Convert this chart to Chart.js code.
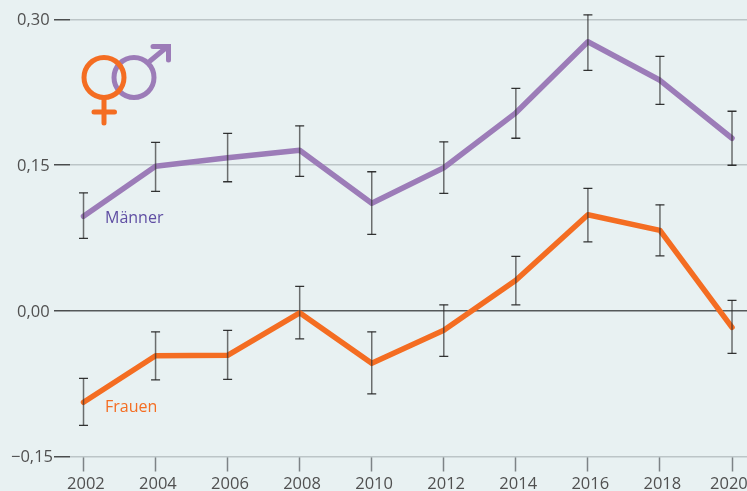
<!DOCTYPE html>
<html><head><meta charset="utf-8">
<style>html,body{margin:0;padding:0;background:#e8f1f2;overflow:hidden}canvas{display:block}</style>
<script src="https://cdn.jsdelivr.net/npm/chart.js@4"></script></head>
<body><canvas id="c" width="747" height="491"></canvas>
<script>
const years=[2002,2004,2006,2008,2010,2012,2014,2016,2018,2020];
const yTickValues=[-0.15,0,0.15,0.30];
const yTickLabels=["\u22120,15","0,00","0,15","0,30"];
const maenner=[.0973,.1489,.1576,.1653,.1107,.1473,.2039,.2771,.2374,.1777];
const maennerHigh=[.1215,.1735,.1828,.1905,.1432,.1740,.2291,.3048,.2621,.2055];
const maennerLow=[.0747,.1231,.1329,.1385,.0788,.1210,.1777,.2477,.2127,.1499];
const frauen=[-.0942,-.0463,-.0458,-.0021,-.0541,-.0201,.0314,.0989,.0829,-.0170];
const frauenHigh=[-.0695,-.0216,-.0201,.0252,-.0216,.0062,.0561,.1262,.1092,.0108];
const frauenLow=[-.1179,-.0711,-.0705,-.0288,-.0855,-.0469,.0062,.0711,.0566,-.0438];
const purple='#9c7cb8',orange='#f46d22',labelPurple='#5f4ea3',textCol='#505050';
const font='"Open Sans"';

const labelNudge={id:'labelNudge',beforeDraw(ch){
  const {x,y}=ch.scales;
  const xi=x.getLabelItems();
  const last=xi[xi.length-1];
  last.options.translation[0]=x.getPixelForValue(2020)-22;
  y.getLabelItems().forEach(it=>{
    it.options.textAlign='left';
    it.options.translation[0]=String(it.label).startsWith('\u2212')?11:17;
    it.options.translation[1]=y.getPixelForValue(yTickValues[yTickLabels.indexOf(it.label)])+1;
  });
}};

const errorBars={id:'errorBars',afterDatasetsDraw(ch){
  const {ctx,scales:{x,y}}=ch;
  ctx.save();
  [[maennerHigh,maennerLow],[frauenHigh,frauenLow]].forEach(([hi,lo])=>{
    years.forEach((yr,i)=>{
      const px=x.getPixelForValue(yr),a=y.getPixelForValue(hi[i]),b=y.getPixelForValue(lo[i]);
      ctx.strokeStyle='rgba(45,45,45,.68)';ctx.lineWidth=1.5;
      ctx.beginPath();ctx.moveTo(px,a);ctx.lineTo(px,b);ctx.stroke();
      ctx.strokeStyle='rgba(30,30,30,.9)';ctx.lineWidth=1.3;
      ctx.beginPath();ctx.moveTo(px-4.5,a);ctx.lineTo(px+4.5,a);ctx.moveTo(px-4.5,b);ctx.lineTo(px+4.5,b);ctx.stroke();
    });
  });
  ctx.font='16px '+font;ctx.textBaseline='middle';ctx.textAlign='left';
  ctx.fillStyle=labelPurple;ctx.fillText('Männer',105,218.5);
  ctx.fillStyle=orange;ctx.fillText('Frauen',105,407.5);
  // Symbole
  ctx.lineWidth=5;ctx.lineCap='round';ctx.lineJoin='miter';
  ctx.strokeStyle=purple;
  ctx.beginPath();ctx.arc(134,77.5,20,0,7);ctx.stroke();
  ctx.beginPath();ctx.moveTo(150,61);ctx.lineTo(167,47);ctx.stroke();
  ctx.beginPath();ctx.moveTo(153,46.5);ctx.lineTo(168.5,46.5);ctx.lineTo(168.5,60);ctx.stroke();
  ctx.strokeStyle=orange;
  ctx.beginPath();ctx.arc(104,77.5,20,0,7);ctx.stroke();
  ctx.beginPath();ctx.moveTo(104,98);ctx.lineTo(104,123);ctx.moveTo(94,112);ctx.lineTo(114.5,112);ctx.stroke();
  ctx.restore();
}};

new Chart(document.getElementById('c'),{
  type:'line',
  data:{datasets:[
    {label:'Männer',data:years.map((v,i)=>({x:v,y:maenner[i]})),borderColor:purple,borderWidth:5.5},
    {label:'Frauen',data:years.map((v,i)=>({x:v,y:frauen[i]})),borderColor:orange,borderWidth:5.5}
  ]},
  plugins:[labelNudge,errorBars],
  options:{
    responsive:false,animation:false,
    layout:{padding:{top:19.5,left:0,right:0,bottom:0}},
    plugins:{legend:{display:false},tooltip:{enabled:false}},
    elements:{point:{radius:0},line:{tension:0,borderCapStyle:'round',borderJoinStyle:'round'}},
    scales:{
      x:{type:'linear',min:2001.625,max:2020.416,
        afterBuildTicks(s){s.ticks=years.map(v=>({value:v}));},
        afterFit(s){s.height=34.5;s.paddingLeft=0;s.paddingRight=0;},
        border:{display:false},
        grid:{drawOnChartArea:false,drawTicks:true,tickLength:15,tickColor:'#7d8386',tickWidth:1.5},
        ticks:{autoSkip:false,maxRotation:0,padding:3,align:'start',labelOffset:-16.5,color:textCol,font:{family:font,size:16.5},callback:v=>String(v)}
      },
      y:{min:-0.15,max:0.30,
        afterBuildTicks(s){s.ticks=yTickValues.map(v=>({value:v}));},
        afterFit(s){s.width=70;s.paddingTop=0;s.paddingBottom=0;},
        border:{display:false},
        grid:{lineWidth:1.5,tickLength:16,tickWidth:1.5,tickColor:'#4a4d4e',
          color:c=>c.tick&&c.tick.value===0?'#55595a':'#bcc5c7'},
        ticks:{autoSkip:false,padding:2,color:textCol,font:{family:font,size:16.5},
          callback:v=>yTickLabels[yTickValues.indexOf(v)]}
      }
    }
  }
});
</script></body></html>
